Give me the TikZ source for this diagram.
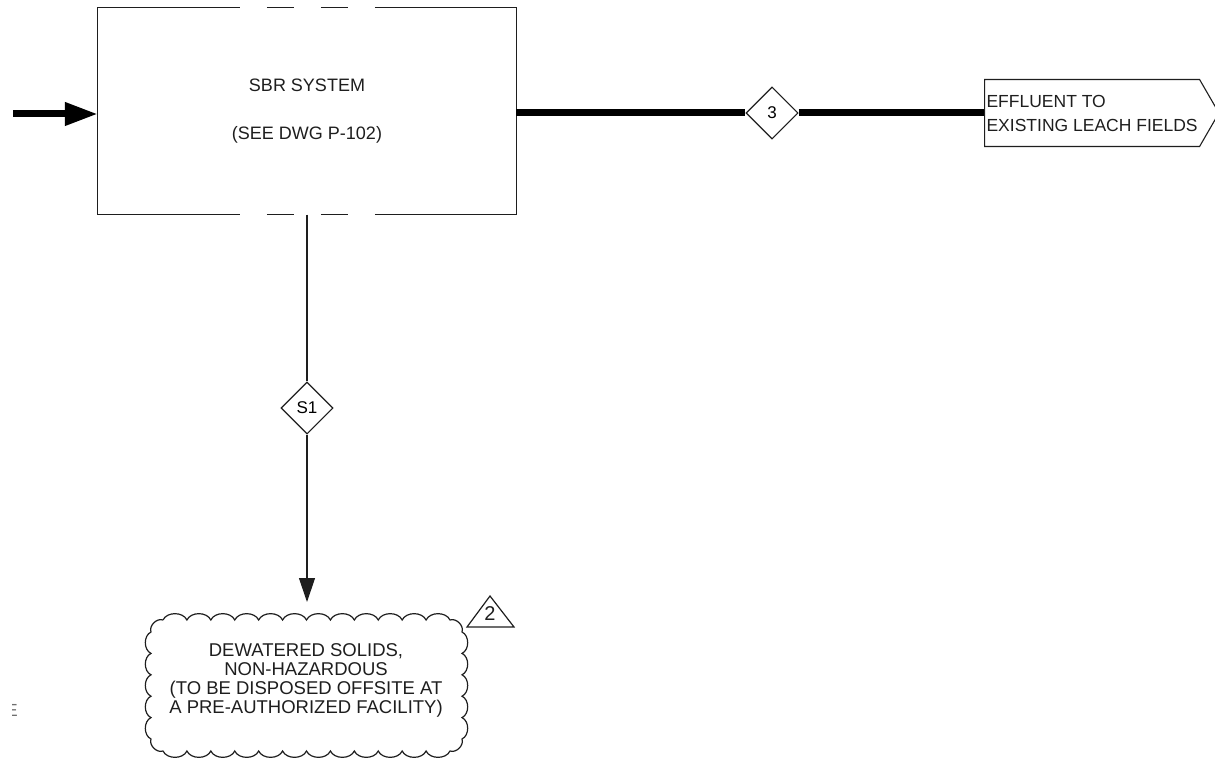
\documentclass[tikz,border=0pt]{standalone}
\usepackage{xcolor}
\usepackage{fontspec}
\setmainfont{Liberation Sans}
\usepackage{tikz}
\usetikzlibrary{shapes.geometric, shapes.symbols, arrows.meta, positioning, calc}
\definecolor{inkdark}{RGB}{30, 30, 30}
\definecolor{fadegray}{RGB}{110, 110, 110}

\tikzset{
    plainline/.style={draw=inkdark, line width=1.2pt},
    mainline/.style={draw=black, line width=7pt},
    labeltext/.style={font=\fontsize{18}{19}\selectfont, text=inkdark},
    scallop/.style={bend left=65},
    streamtag/.style={
        diamond,
        draw=inkdark,
        line width=1.1pt,
        fill=white,
        minimum width=52pt,
        minimum height=52pt,
        inner sep=0pt,
        font=\fontsize{17}{20}\selectfont
    }
}

\begin{document}
\begin{tikzpicture}[x=1pt, y=-1pt]
    \useasboundingbox (0,0) rectangle (1215,759);

    \node[
        labeltext,
        align=center,
        minimum width=418pt,
        minimum height=207pt
    ] (sbr) at (307,111) {SBR SYSTEM\\[29pt](SEE DWG P-102)};
    \draw[plainline] (sbr.north west) -- (sbr.south west);
    \draw[plainline] (sbr.north east) -- (sbr.south east);
    \foreach \a/\b in {north west/north east, south west/south east}
        \draw[plainline, dash pattern=on 142pt off 27pt on 27pt off 27pt on 27pt off 27pt on 160pt]
            (sbr.\a) -- (sbr.\b);

    \coordinate (inlet) at (13,114);
    \draw[mainline, -{Triangle[length=33pt, width=22pt]}] (inlet) -- (inlet -| sbr.west);

    \node[streamtag] (tagthree) at (772,113) {3};
    \node[
        signal,
        signal to=east,
        signal pointer angle=120,
        draw=inkdark,
        line width=1.1pt,
        anchor=west,
        align=left,
        minimum height=67pt,
        inner xsep=2pt,
        font=\fontsize{17.5}{19}\selectfont,
        text=inkdark
    ] (effluent) at (984,113) {EFFLUENT TO\\[5pt]EXISTING LEACH FIELDS};
    \draw[mainline] (tagthree -| sbr.east) -- (tagthree.west);
    \draw[mainline] (tagthree.east) -- (effluent.west);

    \node[streamtag] (tagsone) at (307,408) {S1};
    \coordinate (solidsin) at (307,602);
    \draw[plainline] (sbr.south) -- (tagsone.north);
    \draw[plainline, -{Triangle[length=24pt, width=16pt]}] (tagsone.south) -- (solidsin);

    \node[
        labeltext,
        align=center,
        font=\fontsize{18.5}{19}\selectfont
    ] (cloud) at (306,680) {DEWATERED SOLIDS,\\NON-HAZARDOUS\\(TO BE DISPOSED OFFSITE AT\\A PRE-AUTHORIZED FACILITY)};
    \draw[plainline] ($(cloud.center)+(-143,-60)$)
        \foreach \i in {1,...,12} {to[scallop] ++(23.917,0)}
        to[scallop] ++(12,12)
        \foreach \i in {1,...,5} {to[scallop] ++(0,21.4)}
        to[scallop] ++(-12,12)
        \foreach \i in {1,...,12} {to[scallop] ++(-23.917,0)}
        to[scallop] ++(-12,-12)
        \foreach \i in {1,...,5} {to[scallop] ++(0,-21.4)}
        to[scallop] ++(12,-12);

    \node[labeltext, font=\fontsize{20}{20}\selectfont] (revtag) at (490,614) {2};
    \draw[plainline] ($(revtag)+(-23,13)$) -- ($(revtag)+(0,-18)$) -- ($(revtag)+(24,13)$) -- cycle;

    \begin{scope}
        \clip (12,700) rectangle (19,720);
        \node[font=\fontsize{17.5}{18}\selectfont, text=fadegray, inner sep=0pt, anchor=west] (edgemark) at (6,710) {E};
    \end{scope}
\end{tikzpicture}
\end{document}
